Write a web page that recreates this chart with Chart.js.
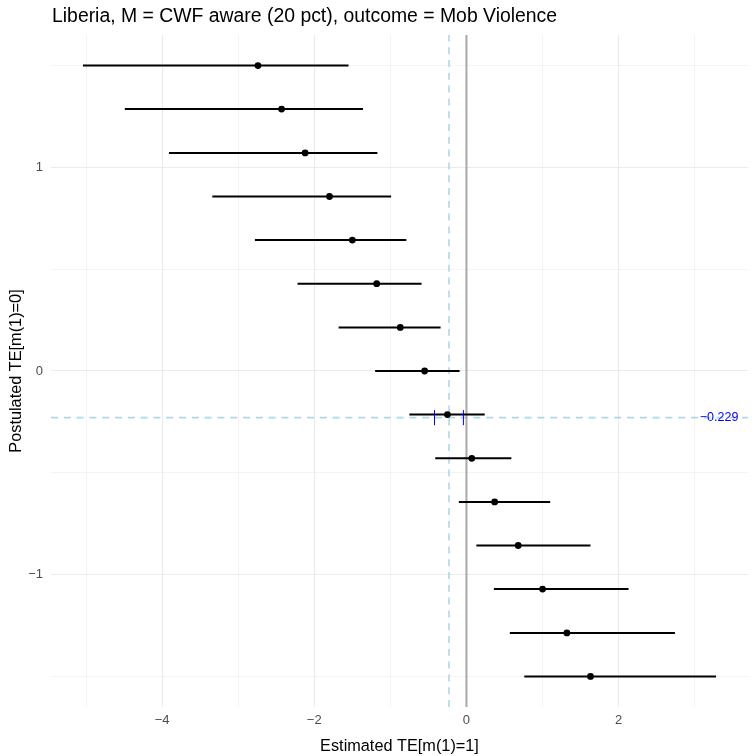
<!DOCTYPE html>
<html>
<head>
<meta charset="utf-8">
<script src="https://cdn.jsdelivr.net/npm/chart.js@4.4.0/dist/chart.umd.min.js"></script>
<style>
  html, body { margin: 0; padding: 0; background: #fff; }
  #wrap { width: 756px; height: 756px; }
</style>
</head>
<body>
<div id="wrap"><canvas id="chart"></canvas></div>
<script>
// postulated TE[m(1)=0] values (y) and estimated TE[m(1)=1] with interval (x)
const postulated = [1.5, 1.286, 1.071, 0.857, 0.643, 0.429, 0.214, 0, -0.214, -0.429, -0.643, -0.857, -1.071, -1.286, -1.5];
const estimate = [-2.74, -2.43, -2.12, -1.80, -1.50, -1.18, -0.87, -0.55, -0.25, 0.07, 0.37, 0.68, 1.00, 1.32, 1.63];
const ciLow = [-5.04, -4.49, -3.91, -3.34, -2.78, -2.22, -1.68, -1.20, -0.75, -0.41, -0.10, 0.13, 0.36, 0.57, 0.76];
const ciHigh = [-1.55, -1.36, -1.17, -0.99, -0.79, -0.59, -0.34, -0.09, 0.24, 0.59, 1.10, 1.63, 2.13, 2.74, 3.28];

const crossValue = -0.229;
const crossCi = [-0.42, -0.04];
const crossLabel = "\u22120.229";

const xTicks = [-5, -4, -3, -2, -1, 0, 1, 2, 3];
const xLabelled = [-4, -2, 0, 2];
const yTicks = [-1.5, -1, -0.5, 0, 0.5, 1, 1.5];
const yLabelled = [-1, 0, 1];

const xMin = -5.46, xMax = 3.70, yMin = -1.65, yMax = 1.65;
const titleText = "Liberia, M = CWF aware (20 pct), outcome = Mob Violence";
const family = "'Liberation Sans', Arial, sans-serif";

const fmt = v => (v < 0 ? "\u2212" + Math.abs(v) : String(v));

const datasets = [];

// reference lines
datasets.push({
  data: [{x: xMin, y: crossValue}, {x: xMax, y: crossValue}],
  borderColor: "#add8e6", borderWidth: 1.6, borderDash: [7, 5.8], order: 5
});
datasets.push({
  data: [{x: crossValue, y: yMin}, {x: crossValue, y: yMax}],
  borderColor: "#add8e6", borderWidth: 1.6, borderDash: [7, 5.8], order: 5
});
datasets.push({
  data: [{x: 0, y: yMin}, {x: 0, y: yMax}],
  borderColor: "#a9a9a9", borderWidth: 2, order: 4
});

// intervals
postulated.forEach((p, i) => {
  datasets.push({
    data: [{x: ciLow[i], y: p}, {x: ciHigh[i], y: p}],
    borderColor: "#000", borderWidth: 2, order: 2
  });
});

// blue marks at the crossing interval
crossCi.forEach(c => {
  datasets.push({
    data: [{x: c, y: crossValue - 0.037}, {x: c, y: crossValue + 0.037}],
    borderColor: "#0000ff", borderWidth: 1, order: 1
  });
});

// points
datasets.push({
  data: postulated.map((p, i) => ({x: estimate[i], y: p})),
  showLine: false, pointRadius: 3.4, pointBackgroundColor: "#000", pointBorderWidth: 0, order: 0
});

const extras = {
  id: "extras",
  afterDatasetsDraw(chart) {
    const {ctx, chartArea, scales} = chart;
    ctx.save();
    ctx.fillStyle = "#0000ff";
    ctx.font = "12.5px " + family;
    ctx.textAlign = "center";
    ctx.textBaseline = "middle";
    ctx.fillText(crossLabel, scales.x.getPixelForValue(3.32), scales.y.getPixelForValue(crossValue));
    ctx.fillStyle = "#000";
    ctx.font = "19.4px " + family;
    ctx.textAlign = "left";
    ctx.textBaseline = "alphabetic";
    ctx.fillText(titleText, chartArea.left + 1, 22);
    ctx.restore();
  }
};

const gridOpts = ticks => ({
  color: "#ebebeb",
  lineWidth: c => (c.tick && ticks.includes(c.tick.value) ? 1.1 : 0.55),
  drawTicks: false
});

new Chart(document.getElementById("chart"), {
  type: "scatter",
  data: {datasets},
  options: {
    responsive: true,
    maintainAspectRatio: false,
    animation: false,
    events: [],
    layout: {padding: {top: 35, right: 8, left: 5, bottom: 0}},
    elements: {point: {radius: 0}, line: {tension: 0}},
    datasets: {scatter: {showLine: true, pointRadius: 0}},
    plugins: {legend: {display: false}, tooltip: {enabled: false}, title: {display: false}},
    scales: {
      x: {
        type: "linear", min: xMin, max: xMax,
        afterBuildTicks: s => { s.ticks = xTicks.map(v => ({value: v})); },
        afterFit: s => { s.height = 49; },
        grid: gridOpts(xLabelled),
        border: {display: false},
        ticks: {
          autoSkip: false, maxRotation: 0, padding: 6, color: "#4d4d4d",
          font: {family, size: 13},
          callback: v => (xLabelled.includes(v) ? fmt(v) : "")
        },
        title: {
          display: true, text: "Estimated TE[m(1)=1]", color: "#000",
          font: {family, size: 16.3}, padding: {top: 0, bottom: 0}
        }
      },
      y: {
        type: "linear", min: yMin, max: yMax,
        afterBuildTicks: s => { s.ticks = yTicks.map(v => ({value: v})); },
        afterFit: s => { s.width = 46; },
        grid: gridOpts(yLabelled),
        border: {display: false},
        ticks: {
          autoSkip: false, padding: 8, color: "#4d4d4d",
          font: {family, size: 13},
          callback: v => (yLabelled.includes(v) ? fmt(v) : "")
        },
        title: {
          display: true, text: "Postulated TE[m(1)=0]", color: "#000",
          font: {family, size: 16.3}, padding: {top: 2, bottom: 0}
        }
      }
    }
  },
  plugins: [extras]
});
</script>
</body>
</html>
